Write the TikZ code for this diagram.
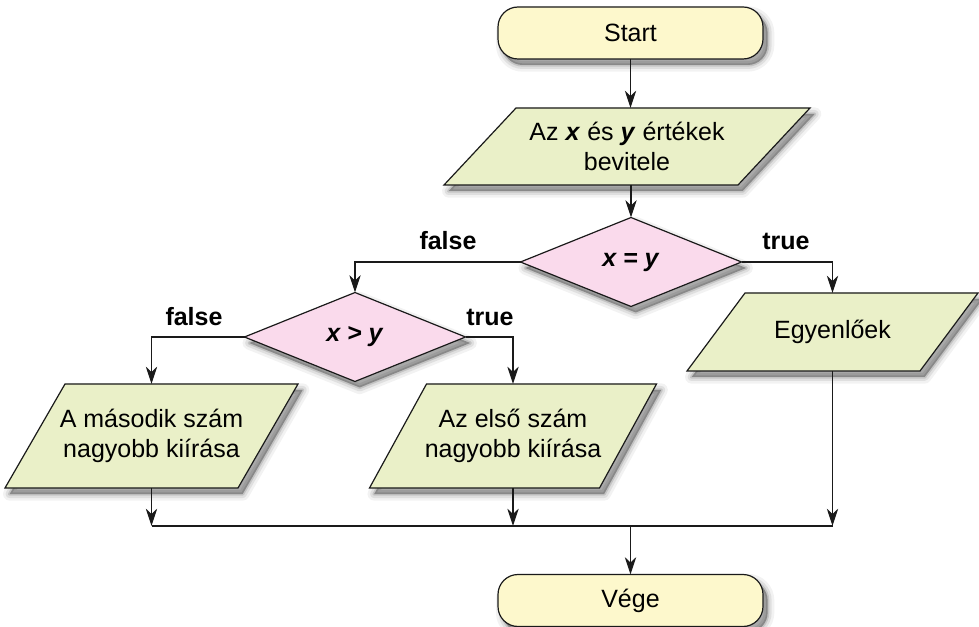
\documentclass[tikz,border=0pt]{standalone}
\usepackage{fontspec}
\setmainfont{Liberation Sans}
\usetikzlibrary{shapes.geometric,arrows.meta,backgrounds,shadows}

\definecolor{termfill}{HTML}{FDF8CC}
\definecolor{iofill}{HTML}{EAF0C8}
\definecolor{decfill}{HTML}{FADAEC}
\definecolor{edgecol}{HTML}{1A1A1A}

% bold italic variable names
\newcommand\bx[1]{\textbf{\textit{#1}}}

\tikzset{
  every node/.style={font=\fontsize{18.75}{22.5}\selectfont, text=black},
  % soft drop shadow built from a few translucent layers
  softshadow/.style={
      general shadow={draw=black, draw opacity=0.05, fill=none, line width=10pt,
          line join=round, shadow xshift=3.5pt, shadow yshift=-4.5pt},
      general shadow={draw=black, draw opacity=0.08, fill=none, line width=6pt,
          line join=round, shadow xshift=3.5pt, shadow yshift=-4.5pt},
      general shadow={draw=black, draw opacity=0.12, fill=black, fill opacity=0.3,
          line width=2.5pt, line join=round, shadow xshift=3.5pt, shadow yshift=-4.5pt}},
  terminal/.style={rectangle, rounded corners=15pt, draw=edgecol, line width=0.9pt,
      fill=termfill, softshadow, minimum width=265*0.75pt, minimum height=52*0.75pt,
      inner sep=0pt, outer sep=0pt},
  decision/.style={diamond, draw=edgecol, line width=0.9pt, fill=decfill, softshadow,
      minimum width=221*0.75pt, minimum height=89*0.75pt, inner sep=0pt, outer sep=0pt},
  iotext/.style={rectangle, align=center, inner sep=0pt, outer sep=0pt},
  ioshape/.style={draw=edgecol, line width=0.9pt, fill=iofill, softshadow},
  flow/.style={draw=edgecol, line width=0.9pt},
  arrow/.style={flow, -{Stealth[length=13pt,width=8.5pt,inset=4pt]}},
  branch/.style={font=\fontsize{18.75}{22.5}\selectfont\bfseries, anchor=base},
}

% parallelogram drawn round a text node; #2 is the horizontal slant in px
\newcommand\slantbox[2]{%
  \path[ioshape]
    ([xshift=-#2*0.375pt]#1.south west) -- ([xshift=-#2*0.375pt]#1.south east) --
    ([xshift=#2*0.375pt]#1.north east) -- ([xshift=#2*0.375pt]#1.north west) -- cycle;}

\begin{document}
\begin{tikzpicture}[x=0.75pt, y=-0.75pt]
  \useasboundingbox (0,0) rectangle (979,627);

  % terminals and decisions
  \node[terminal] (start) at (630.5,33) {Start};
  \node[decision] (d1) at (631,262) {\bx{x = y}};
  \node[decision] (d2) at (355,337) {\bx{x > y}};
  \node[terminal] (end) at (630.5,600.5) {Vége};

  % input / output texts
  \node[iotext, minimum width=294*0.75pt, minimum height=77*0.75pt] (in) at (627,146.5)
      {Az \bx{x} és \bx{y} értékek\\bevitele};
  \node[iotext, minimum width=233*0.75pt, minimum height=78*0.75pt] (eq) at (832.5,332)
      {Egyenlőek};
  \node[iotext, minimum width=233*0.75pt, minimum height=104*0.75pt] (small) at (151.5,436)
      {A második szám\\nagyobb kiírása};
  \node[iotext, minimum width=230*0.75pt, minimum height=104*0.75pt] (big) at (513,436)
      {Az első szám\\nagyobb kiírása};

  \begin{scope}[on background layer]
    \slantbox{in}{72}
    \slantbox{eq}{58}
    \slantbox{small}{60}
    \slantbox{big}{57}
  \end{scope}

  % junction line above the end terminal
  \coordinate (mrg) at (631,526);

  % connectors
  \draw[arrow] (start.south) -- (start.south |- in.north);
  \draw[arrow] (d1.north |- in.south) -- (d1.north);
  \draw[arrow] (d1.west) -| (d2.north);
  \draw[arrow] (d1.east) -| (eq.north);
  \draw[arrow] (d2.west) -| (small.north);
  \draw[arrow] (d2.east) -| (big.north);
  \draw[arrow] (small.south) -- (small.south |- mrg);
  \draw[arrow] (big.south) -- (big.south |- mrg);
  \draw[arrow] (eq.south) -- (eq.south |- mrg);
  \draw[flow] (small.south |- mrg) -- (eq.south |- mrg);
  \draw[arrow] (end.north |- mrg) -- (end.north);

  % branch labels
  \node[branch] (lf1) at (448,250) {false};
  \node[branch] (lt1) at (786,250) {true};
  \node[branch] (lf2) at (194,326) {false};
  \node[branch] (lt2) at (490,326) {true};
\end{tikzpicture}
\end{document}
